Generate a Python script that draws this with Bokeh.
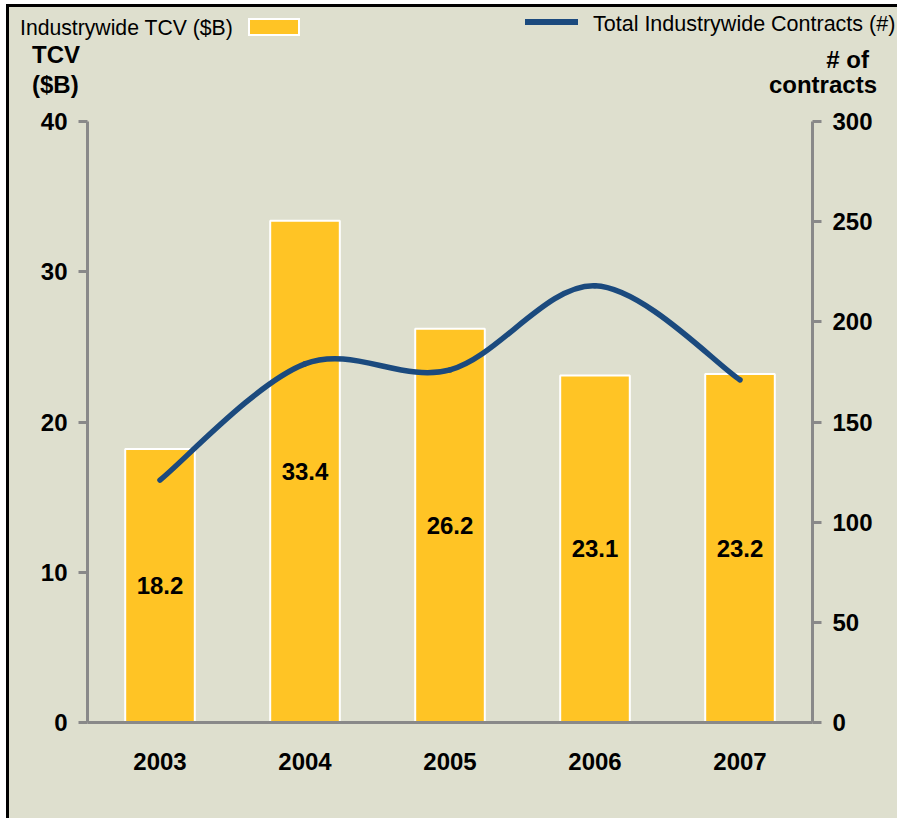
from bokeh.plotting import figure
from bokeh.layouts import column
from bokeh.models import Range1d, LinearAxis, FixedTicker, ColumnDataSource, Div
from bokeh.embed import file_html
from bokeh.resources import INLINE
from bokeh.core.properties import value

# ---- data ----
years = ["2003", "2004", "2005", "2006", "2007"]
tcv = [18.2, 33.4, 26.2, 23.1, 23.2]          # Industrywide TCV ($B)
contracts = [121, 179, 176, 218, 171]          # Total Industrywide Contracts (#)
tcv_ticks = [0, 10, 20, 30, 40]
contract_ticks = [0, 50, 100, 150, 200, 250, 300]
bar_series_name = "Industrywide TCV ($B)"
line_series_name = "Total Industrywide Contracts (#)"

FONT = "Liberation Sans"
BG = "#DEDFCE"
BAR = "#FFC425"
LINE = "#1B4A7E"
AXIS = "#898989"

W = 888          # content width (page x 9 .. 897)
HDR_H = 100      # header strip (page y 7 .. 107)
MAIN_H = 711     # main chart (page y 107 .. 818)

idx = list(range(len(years)))

# ================= header strip (legend + axis titles) =================
def span(text, left=None, right=None, top=0, size=24, weight="bold"):
    pos = f"left:{left}px;" if left is not None else f"right:{right}px;"
    return (f'<span style="position:absolute;{pos}top:{top}px;'
            f"font-family:'{FONT}';font-size:{size}px;font-weight:{weight};"
            f'line-height:1;white-space:nowrap;color:black;">{text}</span>')


def box(left, top, width, height, color, border=None):
    b = f"border:{border};" if border else ""
    return (f'<div style="position:absolute;left:{left}px;top:{top}px;'
            f'width:{width}px;height:{height}px;background:{color};{b}'
            f'box-sizing:border-box;"></div>')


hdr_html = (
    f'<div style="position:relative;width:{W}px;height:{HDR_H}px;'
    f'background:{BG};overflow:hidden;">'
    + span(bar_series_name, left=11, top=10.3, size=21.2, weight="normal")
    + box(239, 11, 52, 18, BAR, border="2px solid white")
    + box(516, 12, 53, 6, LINE)
    + span(line_series_name, left=584, top=6.8, size=21.5, weight="normal")
    + span("TCV", left=23, top=35.7)
    + span("($B)", left=23, top=65.7)
    + span("# of", right=28, top=40.5)
    + span("contracts", right=20, top=65.5)
    + "</div>"
)
hdr = Div(text=hdr_html, width=W, height=HDR_H, margin=0,
          styles={"background-color": BG, "overflow": "hidden"})

# ================= main chart =================
p = figure(width=W, height=MAIN_H, output_backend="svg", toolbar_location=None,
           x_range=Range1d(-0.5, len(years) - 0.5), y_range=Range1d(0, 40),
           min_border_left=78, min_border_right=85, min_border_top=14,
           min_border_bottom=96)
p.extra_y_ranges = {"n": Range1d(0, 300)}
p.background_fill_color = BG
p.border_fill_color = BG
p.outline_line_color = None
p.grid.visible = False

right_axis = LinearAxis(y_range_name="n", ticker=FixedTicker(ticks=contract_ticks))
p.add_layout(right_axis, "right")

p.yaxis[0].ticker = FixedTicker(ticks=tcv_ticks)
p.xaxis[0].ticker = FixedTicker(ticks=idx)
p.xaxis[0].major_label_overrides = {i: y for i, y in enumerate(years)}

for ax in [p.xaxis[0], p.yaxis[0], right_axis]:
    ax.axis_line_color = AXIS
    ax.axis_line_width = 3
    ax.major_tick_line_color = AXIS
    ax.major_tick_line_width = 3
    ax.major_tick_out = 9
    ax.major_tick_in = 0
    ax.minor_tick_line_color = None
    ax.major_label_text_font = FONT
    ax.major_label_text_font_style = "bold"
    ax.major_label_text_font_size = "24px"
    ax.major_label_text_color = "black"
    ax.major_label_standoff = 11
p.xaxis[0].major_tick_out = 0
p.xaxis[0].major_label_standoff = 30

# ---- bars ----
src = ColumnDataSource(dict(x=idx, top=tcv, mid=[v / 2 for v in tcv],
                            lab=[f"{v:.1f}" for v in tcv]))
p.vbar(x="x", top="top", width=0.48, source=src, fill_color=BAR,
       line_color="white", line_width=2)
p.text(x="x", y="mid", text="lab", source=src, text_align="center",
       text_baseline="middle", text_font=value(FONT), text_font_style="bold",
       text_font_size="24px", text_color="black")

# ---- smoothed line (cubic Bezier segments through the data points) ----
t = 1 / 6
n = len(contracts)
seg = dict(x0=[], y0=[], x1=[], y1=[], cx0=[], cy0=[], cx1=[], cy1=[])
for i in range(n - 1):
    im, i2 = max(i - 1, 0), min(i + 2, n - 1)
    seg["x0"].append(idx[i]); seg["y0"].append(contracts[i])
    seg["x1"].append(idx[i + 1]); seg["y1"].append(contracts[i + 1])
    seg["cx0"].append(idx[i] + (idx[i + 1] - idx[im]) * t)
    seg["cy0"].append(contracts[i] + (contracts[i + 1] - contracts[im]) * t)
    seg["cx1"].append(idx[i + 1] - (idx[i2] - idx[i]) * t)
    seg["cy1"].append(contracts[i + 1] - (contracts[i2] - contracts[i]) * t)
p.bezier(source=ColumnDataSource(seg), x0="x0", y0="y0", x1="x1", y1="y1",
         cx0="cx0", cy0="cy0", cx1="cx1", cy1="cy1", y_range_name="n",
         line_color=LINE, line_width=5.5, line_cap="round")

# black frame on the top and left edges (drawn as shadows: no layout change)
layout = column(hdr, p, spacing=0, margin=(7, 0, 0, 9),
                styles={"background-color": BG,
                        "box-shadow": "-3px -3px 0 0 black, -3px 0 0 0 black, "
                                      "0 -3px 0 0 black"})

open("out.html", "w").write(file_html(layout, INLINE))
